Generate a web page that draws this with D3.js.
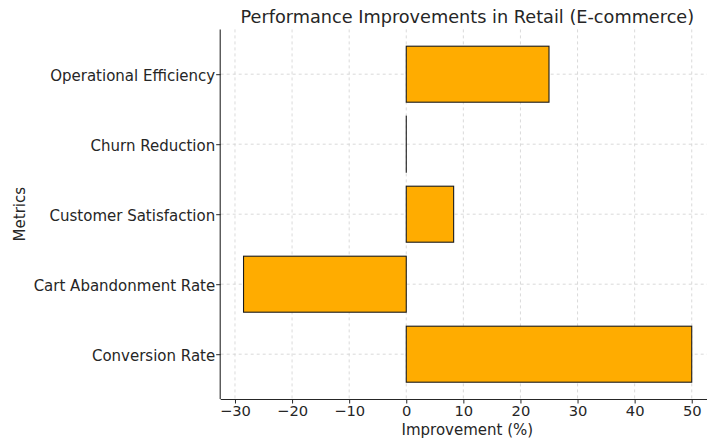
<!DOCTYPE html>
<html>
<head>
<meta charset="utf-8">
<script src="https://cdn.jsdelivr.net/npm/d3@7"></script>
<style>
  body { margin: 0; background: #fff; }
  svg { display: block; }
  svg text { font-family: "DejaVu Sans", sans-serif; fill: #262626; }
  .grid line { stroke: #d0d0d0; stroke-dasharray: 3,3; stroke-width: 0.8; }
  .axis path, .axis line { stroke: #262626; }
</style>
</head>
<body>
<svg id="chart" width="707" height="441"></svg>
<script>
/* ── Data ─────────────────────────────────────────────────── */
const metrics = [
  "Conversion Rate",
  "Cart Abandonment Rate",
  "Customer Satisfaction",
  "Churn Reduction",
  "Operational Efficiency",
];
const improvements = [50, -28.5, 8.3, 0, 25];
const xTicks = [-30, -20, -10, 0, 10, 20, 30, 40, 50];

/* ── Layout ───────────────────────────────────────────────── */
const plotL = 220.7, plotR = 714, plotT = 29.4, plotB = 399;
const svg = d3.select("#chart");

const x = d3.scaleLinear().domain([-32.5, 53.9]).range([plotL, plotR]);
const y = d3.scaleLinear().domain([-0.64, 4.64]).range([plotB, plotT]);
const barH = y(0) - y(0.8);

/* ── Grid (dashed, behind bars) ───────────────────────────── */
const grid = svg.append("g").attr("class", "grid");
grid.selectAll("line.v").data(xTicks).enter().append("line")
  .attr("x1", d => x(d)).attr("x2", d => x(d))
  .attr("y1", plotT).attr("y2", plotB);
grid.selectAll("line.h").data(metrics).enter().append("line")
  .attr("x1", plotL).attr("x2", plotR)
  .attr("y1", (d, i) => y(i)).attr("y2", (d, i) => y(i));

/* ── Bars (tiny min width so a zero bar still shows its edge) ── */
svg.append("g").selectAll("rect")
  .data(improvements)
  .enter().append("rect")
    .attr("x", d => x(Math.min(0, d)))
    .attr("width", d => Math.max(0.01, Math.abs(x(d) - x(0))))
    .attr("y", (d, i) => y(i) - barH / 2)
    .attr("height", barH)
    .attr("fill", "#ffac00")
    .attr("stroke", "#1a1a1a")
    .attr("stroke-width", 1.1);

/* ── Axes ─────────────────────────────────────────────────── */
const xAxis = svg.append("g").attr("class", "axis")
  .attr("transform", `translate(0,${plotB})`)
  .call(d3.axisBottom(x).tickValues(xTicks).tickSizeOuter(0).tickSize(4.5)
    .tickFormat(d => d < 0 ? "\u2212" + Math.abs(d) : d));
xAxis.attr("font-family", null).attr("font-size", null);
xAxis.select(".domain").attr("d", `M${plotL},0.5H${plotR}`).attr("stroke-width", 1.1);
xAxis.selectAll(".tick text").attr("dy", null).attr("y", 16.5).style("font-size", "14.7px");

const yAxis = svg.append("g").attr("class", "axis")
  .attr("transform", `translate(${plotL},0)`)
  .call(d3.axisLeft(y).tickValues(d3.range(metrics.length)).tickSizeOuter(0).tickSize(4.5)
    .tickFormat(i => metrics[i]));
yAxis.attr("font-family", null).attr("font-size", null);
yAxis.select(".domain").attr("d", `M-0.5,${plotT}V${plotB}`).attr("stroke-width", 1.1);
yAxis.selectAll(".tick text").attr("x", -5.5).attr("dy", "0.4em").style("font-size", "15px");

/* ── Labels ───────────────────────────────────────────────── */
svg.append("text")
  .attr("x", (plotL + plotR) / 2).attr("y", 23)
  .attr("text-anchor", "middle")
  .style("font-size", "17.7px")
  .text("Performance Improvements in Retail (E-commerce)");

svg.append("text")
  .attr("x", (plotL + plotR) / 2).attr("y", 435)
  .attr("text-anchor", "middle")
  .style("font-size", "15px")
  .text("Improvement (%)");

svg.append("text")
  .attr("transform", `translate(25,${(plotT + plotB) / 2}) rotate(-90)`)
  .attr("text-anchor", "middle")
  .style("font-size", "15px")
  .text("Metrics");
</script>
</body>
</html>
